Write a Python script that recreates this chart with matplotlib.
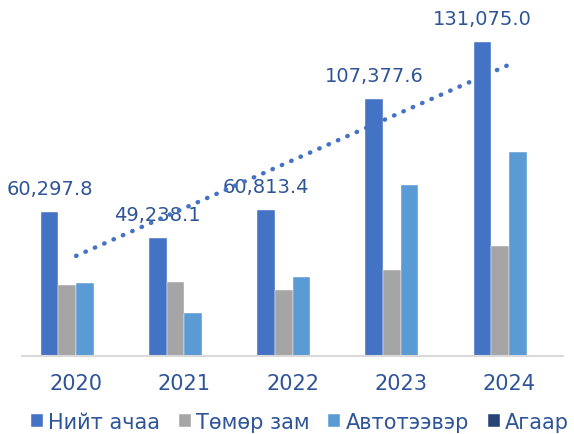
import numpy as np
import matplotlib
matplotlib.use('Agg')
import matplotlib.pyplot as plt

# ── data (мянган тонн) ────────────────────────────────────────────────────────
YEARS   = ['2020', '2021', '2022', '2023', '2024']
TOTAL   = [60297.8, 49238.1, 60813.4, 107377.6, 131075.0]
RAIL    = [29800.0, 31100.0, 27600.0, 36100.0, 45800.0]
ROAD    = [30480.0, 18120.0, 33200.0, 71270.0, 85270.0]
AIR     = [4.5, 3.2, 4.1, 5.6, 6.0]
SERIES  = ['Нийт ачаа', 'Төмөр зам', 'Автотээвэр', 'Агаар']

COLORS = ['#4472C4', '#A5A5A5', '#5B9BD5', '#264478']
TEXT_C = '#2F5597'

plt.rcParams['font.family'] = ['DejaVu Sans']

fig = plt.figure(figsize=(5.74, 4.35), dpi=100)
ax = fig.add_axes([22 / 574, 78 / 435, 541 / 574, 347 / 435])

x = np.arange(len(YEARS))
width = 0.163
offsets = (np.arange(4) - 1.5) * width

for k, (vals, name) in enumerate(zip([TOTAL, RAIL, ROAD, AIR], SERIES)):
    ax.bar(x + offsets[k], vals, width=width, color=COLORS[k], label=name,
           edgecolor='white', linewidth=0.3, zorder=2)

# value labels over total bars
for xi, v in zip(x, TOTAL):
    ax.annotate(f'{v:,.1f}', (xi + offsets[0], v), xytext=(0, 17),
                textcoords='offset points', ha='center', va='center',
                fontsize=14, color=TEXT_C, zorder=3)

# linear trend of totals
coef = np.polyfit(x, TOTAL, 1)
ax.plot(x, np.polyval(coef, x), linestyle=(0, (0.1, 2.2)), color='#4472C4',
        linewidth=3.2, dash_capstyle='round', zorder=4)

ax.set_xlim(-0.5, 4.5)
ax.set_ylim(0, 145000)
ax.set_yticks([])
ax.set_xticks(x)
ax.set_xticklabels(YEARS, fontsize=15, color=TEXT_C)
ax.tick_params(axis='x', length=0, pad=12.5)
for s in ['top', 'left', 'right']:
    ax.spines[s].set_visible(False)
ax.spines['bottom'].set_color('#D9D9D9')
ax.spines['bottom'].set_linewidth(1.5)

leg = fig.legend(loc='center left', bbox_to_anchor=(31 / 574, 1 - 423 / 435), ncol=4,
                 frameon=False, fontsize=15, handlelength=0.58, handleheight=0.58,
                 handletextpad=0.24, columnspacing=0.9, borderaxespad=0, borderpad=0)
for t in leg.get_texts():
    t.set_color(TEXT_C)

fig.savefig('out.png', dpi=100)
